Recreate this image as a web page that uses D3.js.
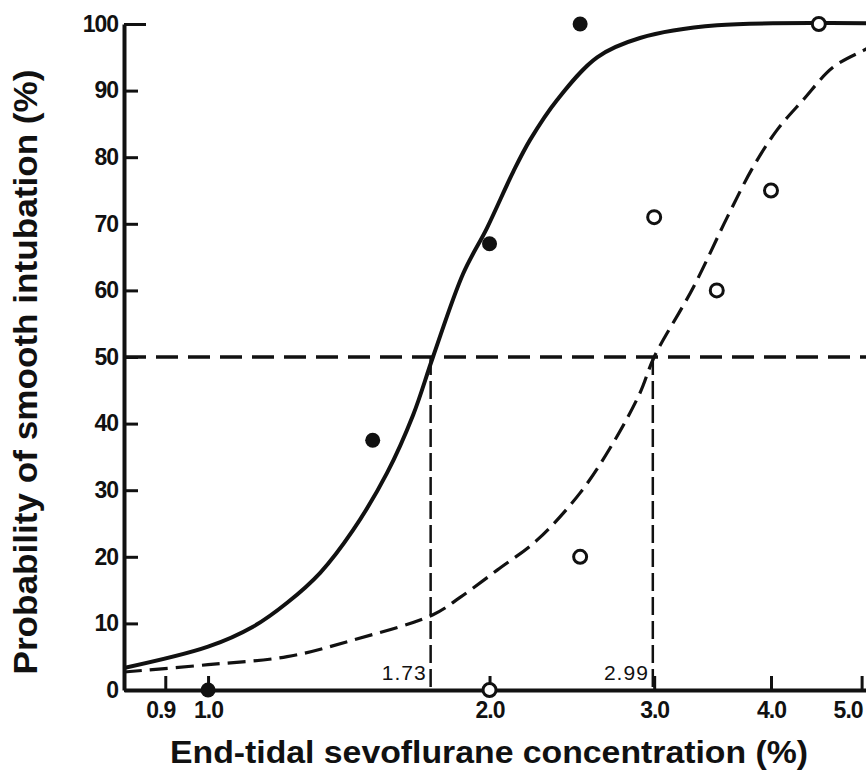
<!DOCTYPE html>
<html>
<head>
<meta charset="utf-8">
<script src="https://cdn.jsdelivr.net/npm/d3@7"></script>
<style>
  body { margin: 0; background: #fff; }
  svg { display: block; }
</style>
</head>
<body>
<div id="chart"></div>
<script>
var w = 866;
var h = 778;

// tick labels
var xTicks = [0.9, 1.0, 2.0, 3.0, 4.0, 5.0];
var yTicks = [0, 10, 20, 30, 40, 50, 60, 70, 80, 90, 100];

// observed points, filled = first group, open = second group
var filledX = [1.0, 1.5, 2.0, 2.5];
var filledY = [0, 37.5, 67, 100];
var openX = [2.0, 2.5, 3.0, 3.5, 4.0, 4.5];
var openY = [0, 20, 71, 60, 75, 100];

// fitted curves
var solidX = [0.813, 1.0, 1.117, 1.215, 1.318, 1.429, 1.554, 1.657, 1.74, 1.874, 1.988, 2.12, 2.21, 2.362, 2.607, 2.897, 3.503, 5.6];
var solidY = [3.3, 6.5, 9.5, 13.1, 17.6, 24, 32.6, 41.3, 50, 62.5, 69.4, 77.8, 82.6, 88.6, 95, 97.9, 99.8, 100];
var dashX = [0.813, 1.0, 1.215, 1.429, 1.74, 1.86, 2.038, 2.248, 2.5, 2.712, 2.897, 3.0, 3.302, 3.592, 3.827, 4.061, 4.329, 4.66, 5.018, 5.1];
var dashY = [2.7, 3.8, 5.0, 7.5, 11.3, 13.9, 18, 22.5, 29.6, 37.1, 44.6, 50, 60.4, 71, 78.5, 84.1, 88.6, 93.5, 96, 96.5];

// EC50 values
var ec50 = [1.73, 2.99];

var svg = d3.select("#chart").append("svg")
    .attr("width", w)
    .attr("height", h)
    .style("background", "#fff");

var x = d3.scaleLog()
    .domain([0.813, 5.6])
    .range([124, 124 + 935 * Math.log10(5.6 / 0.813)]);

var y = d3.scaleLinear()
    .domain([0, 100])
    .range([690, 24]);

var font = "'Liberation Sans', Arial, Helvetica, sans-serif";

// 50% line
svg.append("line")
    .attr("x1", x(0.813)).attr("x2", w)
    .attr("y1", y(50)).attr("y2", y(50))
    .attr("stroke", "#111").attr("stroke-width", 3.5)
    .attr("stroke-dasharray", "22,10");

// drop lines at EC50
svg.selectAll(".drop")
    .data(ec50)
    .enter().append("line")
    .attr("class", "drop")
    .attr("x1", function(d) { return x(d); })
    .attr("x2", function(d) { return x(d); })
    .attr("y1", y(50)).attr("y2", y(0))
    .attr("stroke", "#111").attr("stroke-width", 2.5)
    .attr("stroke-dasharray", "18,6");

svg.selectAll(".ec")
    .data(ec50)
    .enter().append("text")
    .attr("class", "ec")
    .attr("x", function(d) { return x(d) - 4; })
    .attr("y", 680)
    .attr("text-anchor", "end")
    .style("font-family", font)
    .style("font-size", "21px")
    .style("letter-spacing", "1px")
    .attr("fill", "#111")
    .text(function(d) { return d.toFixed(2); });

// curves
var line = d3.line()
    .x(function(d) { return x(d[0]); })
    .y(function(d) { return y(d[1]); })
    .curve(d3.curveCatmullRom.alpha(0.5));

svg.append("path")
    .datum(d3.zip(solidX, solidY))
    .attr("d", line)
    .attr("fill", "none")
    .attr("stroke", "#111")
    .attr("stroke-width", 4);

svg.append("path")
    .datum(d3.zip(dashX, dashY))
    .attr("d", line)
    .attr("fill", "none")
    .attr("stroke", "#111")
    .attr("stroke-width", 3.2)
    .attr("stroke-dasharray", "18,8");

// axes
var xAxis = d3.axisBottom(x)
    .tickValues(xTicks)
    .tickSizeInner(-14)
    .tickSizeOuter(0)
    .tickPadding(12)
    .tickFormat(d3.format(".1f"));

var gx = svg.append("g")
    .attr("transform", "translate(0," + y(0) + ")")
    .call(xAxis);

var yAxis = d3.axisLeft(y)
    .tickValues(yTicks)
    .tickSizeInner(-14)
    .tickSizeOuter(0)
    .tickPadding(6);

var gy = svg.append("g")
    .attr("transform", "translate(" + x(0.813) + ",0)")
    .call(yAxis);

gx.select(".domain").attr("stroke", "#111").attr("stroke-width", 4);
gy.select(".domain").attr("stroke", "#111").attr("stroke-width", 4);
gx.selectAll(".tick line").attr("stroke", "#111").attr("stroke-width", 3);
gy.selectAll(".tick line").attr("stroke", "#111").attr("stroke-width", 3)
    .attr("x2", function(d) { return d === 100 ? 22 : 14; });

gx.selectAll(".tick text")
    .style("font-family", font)
    .style("font-size", "23px")
    .style("font-weight", "bold")
    .style("letter-spacing", "-1px")
    .attr("fill", "#111")
    .attr("dx", function(d) { return d === 0.9 ? -5 : (d === 5 ? -14 : 0); });

gy.selectAll(".tick text")
    .style("font-family", font)
    .style("font-size", "23px")
    .style("font-weight", "bold")
    .style("letter-spacing", "-1px")
    .attr("fill", "#111");

// points
svg.selectAll(".filled")
    .data(d3.zip(filledX, filledY))
    .enter().append("circle")
    .attr("class", "filled")
    .attr("cx", function(d) { return x(d[0]); })
    .attr("cy", function(d) { return y(d[1]); })
    .attr("r", 7.5)
    .attr("fill", "#111");

svg.selectAll(".open")
    .data(d3.zip(openX, openY))
    .enter().append("circle")
    .attr("class", "open")
    .attr("cx", function(d) { return x(d[0]); })
    .attr("cy", function(d) { return y(d[1]); })
    .attr("r", 6.5)
    .attr("fill", "#fff")
    .attr("stroke", "#111")
    .attr("stroke-width", 3);

// titles
svg.append("text")
    .attr("x", 489)
    .attr("y", 763)
    .attr("text-anchor", "middle")
    .attr("textLength", 638)
    .attr("lengthAdjust", "spacingAndGlyphs")
    .style("font-family", font)
    .style("font-size", "31px")
    .style("font-weight", "bold")
    .attr("fill", "#111")
    .text("End-tidal sevoflurane concentration (%)");

svg.append("text")
    .attr("transform", "translate(37,372) rotate(-90)")
    .attr("text-anchor", "middle")
    .attr("textLength", 605)
    .attr("lengthAdjust", "spacingAndGlyphs")
    .style("font-family", font)
    .style("font-size", "33px")
    .style("font-weight", "bold")
    .attr("fill", "#111")
    .text("Probability of smooth intubation (%)");
</script>
</body>
</html>
